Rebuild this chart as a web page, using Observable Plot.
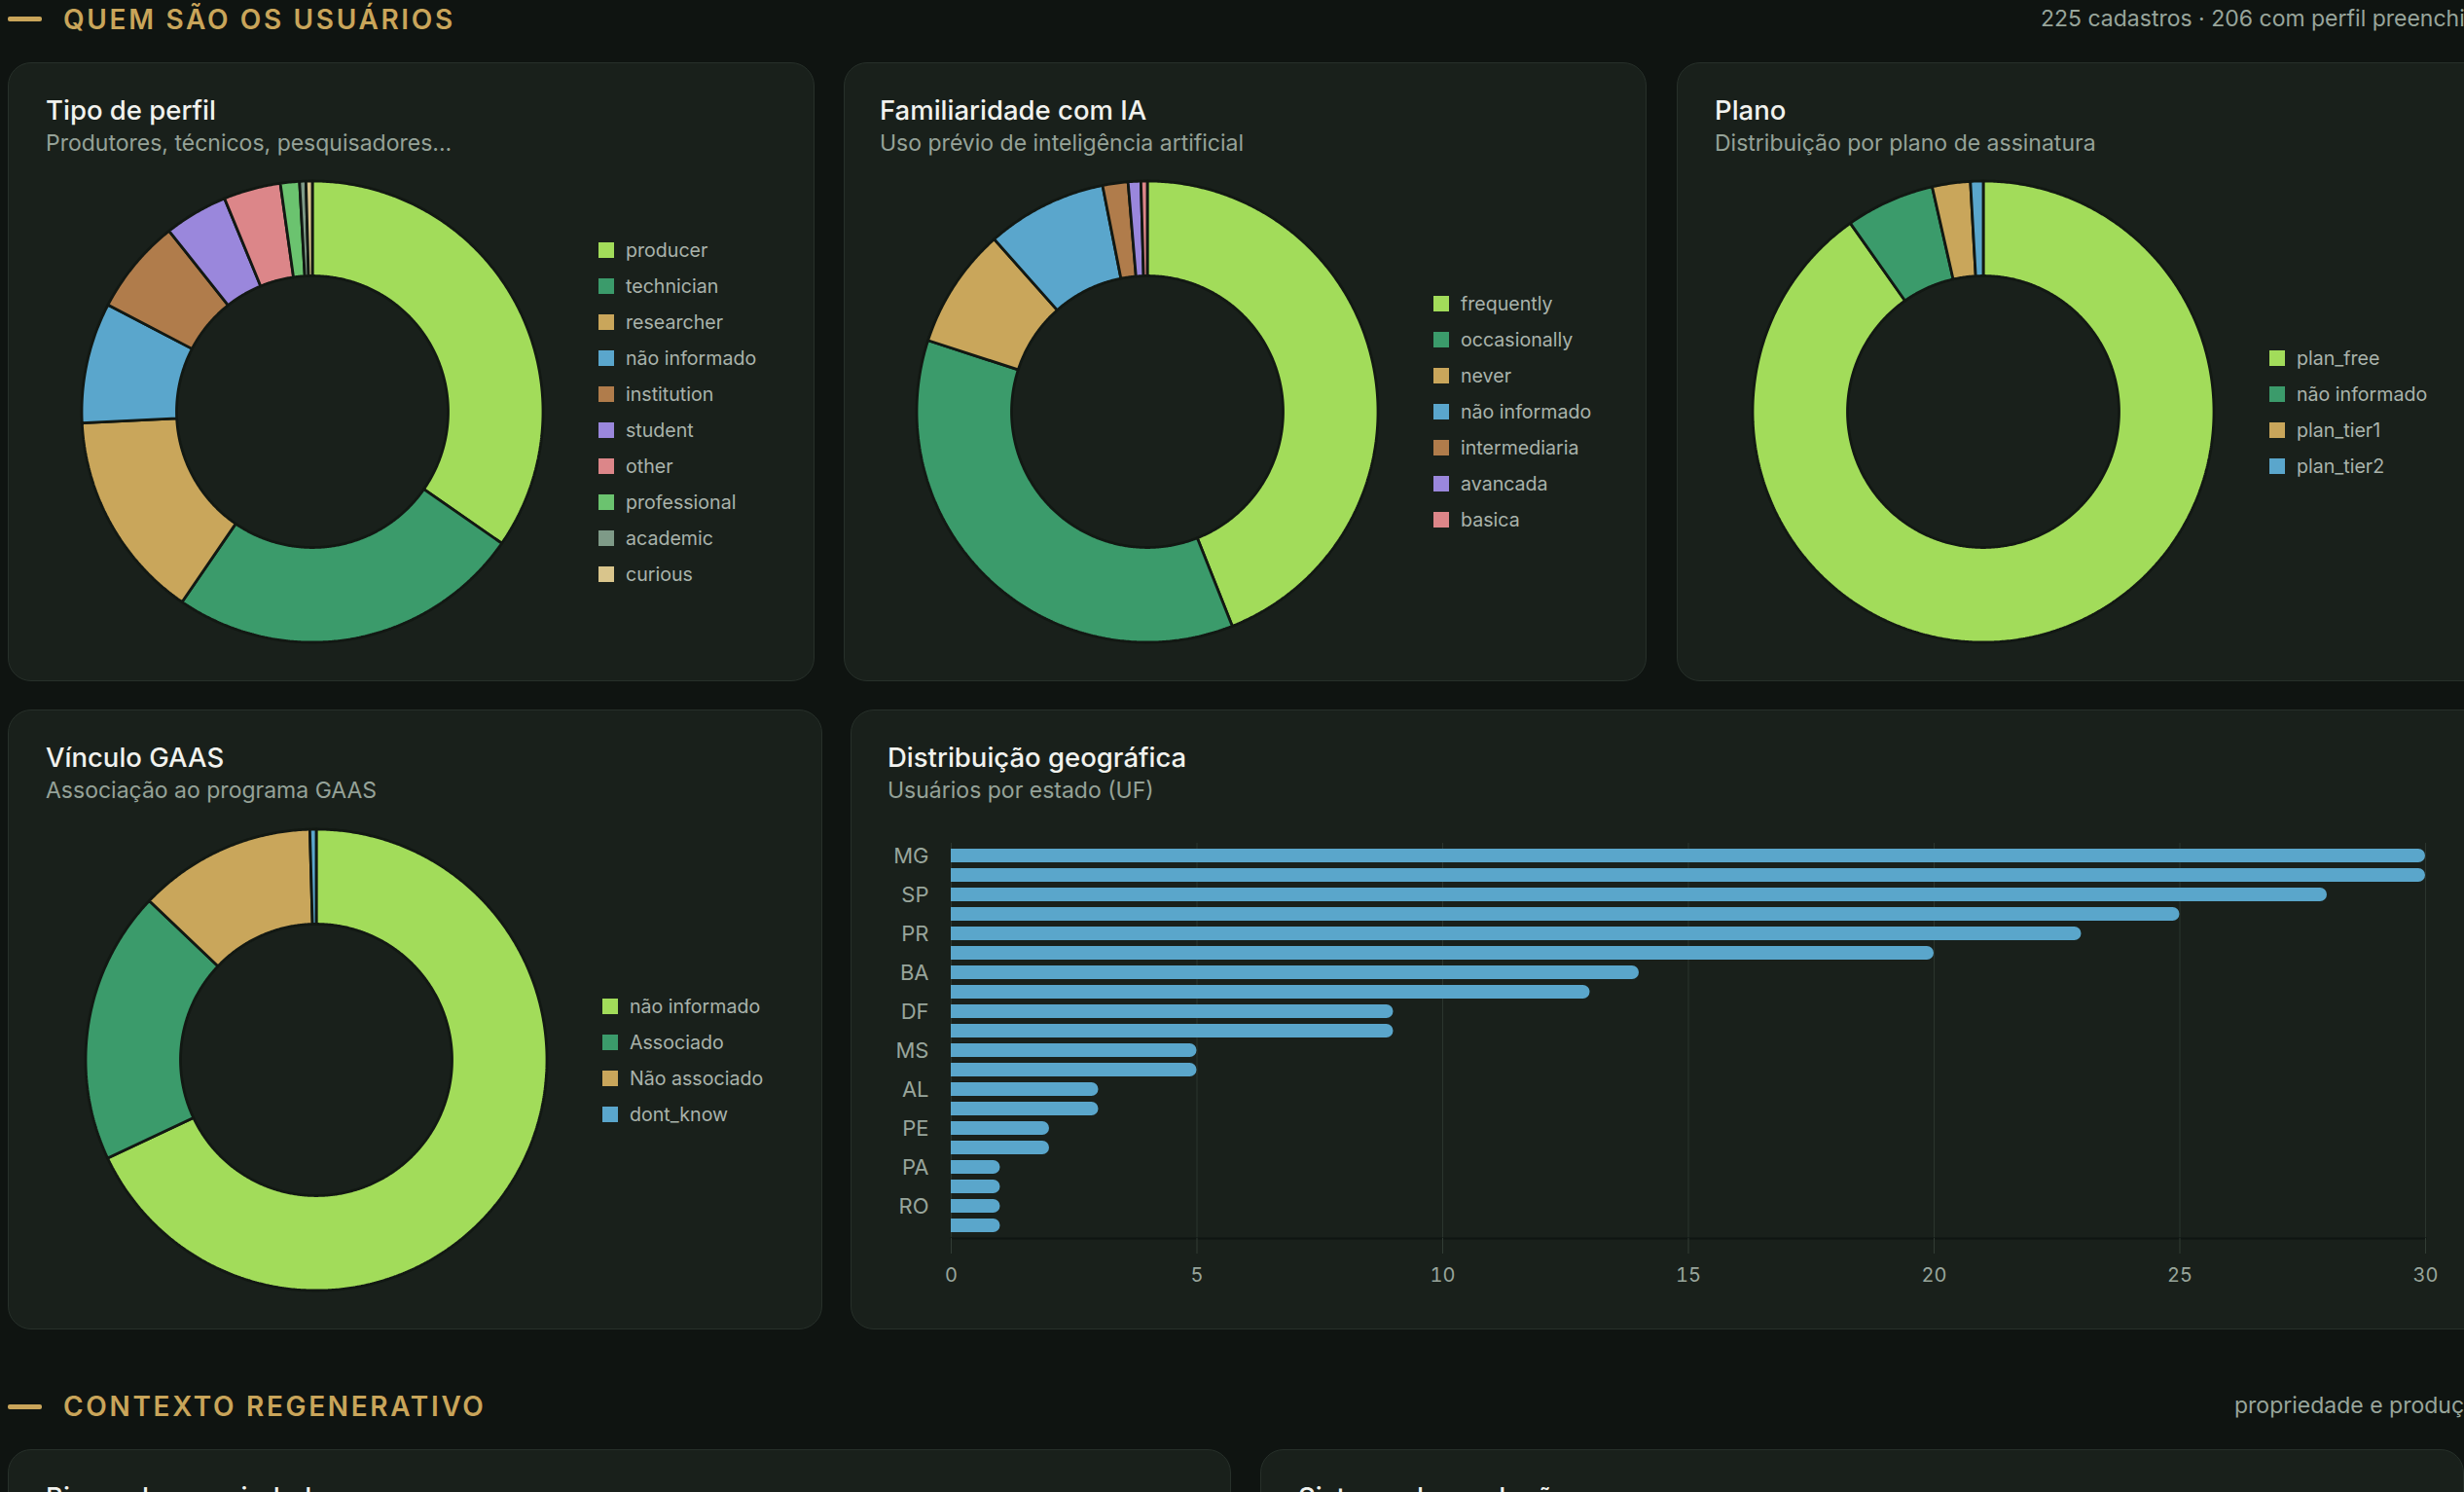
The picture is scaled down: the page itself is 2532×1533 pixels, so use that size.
<!DOCTYPE html>
<html>
<head>
<meta charset="utf-8">
<script src="https://cdn.jsdelivr.net/npm/d3@7"></script>
<script src="https://cdn.jsdelivr.net/npm/@observablehq/plot@0.6"></script>
<style>
html, body { margin: 0; padding: 0; background: #0f1411; }
body { width: 2532px; height: 1533px; overflow: hidden; position: relative; font-family: Inter, "Noto Sans", sans-serif; }
.abs { position: absolute; }
.card { position: absolute; background: #19201b; border: 1.5px solid #27302a; border-radius: 24px; box-sizing: border-box; }
.sec-dash { position: absolute; height: 5px; width: 35px; background: #c9a55a; border-radius: 2px; }
.sec-title { position: absolute; font-size: 28px; line-height: 1; font-weight: 600; letter-spacing: 0.095em; color: #c9a55a; white-space: nowrap; }
.sec-right { position: absolute; font-size: 23px; line-height: 1; color: #98a59b; white-space: nowrap; }
.ttl { position: absolute; font-size: 27.5px; line-height: 1; font-weight: 500; color: #f1f2ee; white-space: nowrap; }
.sub { position: absolute; font-size: 23px; line-height: 1; color: #95a298; white-space: nowrap; }
.leg { position: absolute; display: flex; flex-direction: column; }
.leg .row { display: flex; align-items: center; height: 37px; font-size: 19.6px; color: #a9b3ab; white-space: nowrap; }
.leg .sw { width: 16px; height: 16px; margin-right: 12px; flex: none; }
svg { overflow: visible; }
</style>
</head>
<body>
<script>
// ---------- DATA ----------
const perfilCats = ["producer", "technician", "researcher", "não informado", "institution", "student", "other", "professional", "academic", "curious"];
const perfilVals = [78, 56, 33, 19, 15, 10, 9, 3, 1, 1];
const perfilColors = ["#a2dc5a", "#3b9b6b", "#c9a65b", "#5aa6cc", "#b07c4b", "#9a87dc", "#dc8689", "#6bc36f", "#7e9a87", "#d9c58c"];

const iaCats = ["frequently", "occasionally", "never", "não informado", "intermediaria", "avancada", "basica"];
const iaVals = [99, 81, 19, 19, 4, 2, 1];
const iaColors = ["#a2dc5a", "#3b9b6b", "#c9a65b", "#5aa6cc", "#b07c4b", "#9a87dc", "#dc8689"];

const planoCats = ["plan_free", "não informado", "plan_tier1", "plan_tier2"];
const planoVals = [203, 14, 6, 2];
const planoColors = ["#a2dc5a", "#3b9b6b", "#c9a65b", "#5aa6cc"];

const gaasCats = ["não informado", "Associado", "Não associado", "dont_know"];
const gaasVals = [153, 43, 28, 1];
const gaasColors = ["#a2dc5a", "#3b9b6b", "#c9a65b", "#5aa6cc"];

const ufNames = ["MG", "RS", "SP", "SC", "PR", "GO", "BA", "RJ", "DF", "MT", "MS", "ES", "AL", "CE", "PE", "PB", "PA", "RN", "RO", "TO"];
const ufVals = [30, 30, 28, 25, 23, 20, 14, 13, 9, 9, 5, 5, 3, 3, 2, 2, 1, 1, 1, 1];
const ufTickLabels = ["MG", "SP", "PR", "BA", "DF", "MS", "AL", "PE", "PA", "RO"];
const xTickValues = [0, 5, 10, 15, 20, 25, 30];

// ---------- LAYOUT HELPERS ----------
function el(cls, style, text) {
  const d = document.createElement("div");
  d.className = cls;
  Object.assign(d.style, style);
  if (text != null) d.textContent = text;
  document.body.appendChild(d);
  return d;
}
function card(left, top, width, height) {
  el("card", {left: left + "px", top: top + "px", width: width + "px", height: height + "px"});
}
function titles(left, cardTop, t, s) {
  el("ttl", {left: left + "px", top: (cardTop + 36) + "px"}, t);
  if (s) el("sub", {left: left + "px", top: (cardTop + 72) + "px"}, s);
}
function legend(left, cy, cats, colors) {
  const box = el("leg", {left: left + "px", top: (cy - cats.length * 37 / 2) + "px"});
  cats.forEach((c, i) => {
    const r = document.createElement("div");
    r.className = "row";
    const sw = document.createElement("div");
    sw.className = "sw";
    sw.style.background = colors[i];
    r.appendChild(sw);
    r.appendChild(document.createTextNode(c));
    box.appendChild(r);
  });
}

const RO = 237 / 240, RI = 139.5 / 240;
function donut(cx, cy, cats, vals, colors) {
  const arcs = d3.pie().sort(null).value(d => d.v)(cats.map((c, i) => ({c, v: vals[i]})));
  const pts = [];
  for (const a of arcs) {
    const n = Math.max(2, Math.ceil((a.endAngle - a.startAngle) / 0.008));
    for (let k = 0; k <= n; k++) {
      const t = a.startAngle + (a.endAngle - a.startAngle) * k / n;
      pts.push({c: a.data.c, xo: RO * Math.sin(t), yo: RO * Math.cos(t), xi: RI * Math.sin(t), yi: RI * Math.cos(t)});
    }
  }
  const svg = Plot.plot({
    width: 480, height: 480, margin: 0,
    x: {domain: [-1, 1], axis: null},
    y: {domain: [-1, 1], axis: null},
    color: {domain: cats, range: colors},
    style: {background: "transparent"},
    marks: [
      Plot.area(pts, {x1: "xo", y1: "yo", x2: "xi", y2: "yi", z: "c", fill: "c", stroke: "#121813", strokeWidth: 2.8, strokeLinejoin: "miter", curve: "linear"})
    ]
  });
  const w = el("abs", {left: (cx - 240) + "px", top: (cy - 240) + "px", width: "480px", height: "480px"});
  w.appendChild(svg);
  legend(cx + 294, cy, cats, colors);
}

// ---------- PAGE ----------
// Section 1 header
el("sec-dash", {left: "8px", top: "17px"});
el("sec-title", {left: "65px", top: "6px"}, "QUEM SÃO OS USUÁRIOS");
el("sec-right", {left: "2097px", top: "8px"}, "225 cadastros · 206 com perfil preenchido");

// Row 1 cards
card(8, 64, 829, 636);
card(867, 64, 825, 636);
card(1723, 64, 860, 636);
// Row 2 cards
card(8, 729, 837, 637);
card(874, 729, 1700, 637);

titles(47, 64, "Tipo de perfil", "Produtores, técnicos, pesquisadores...");
titles(904, 64, "Familiaridade com IA", "Uso prévio de inteligência artificial");
titles(1762, 64, "Plano", "Distribuição por plano de assinatura");
titles(47, 729, "Vínculo GAAS", "Associação ao programa GAAS");
titles(912, 729, "Distribuição geográfica", "Usuários por estado (UF)");

donut(321, 423, perfilCats, perfilVals, perfilColors);
donut(1179, 423, iaCats, iaVals, iaColors);
donut(2038, 423, planoCats, planoVals, planoColors);
donut(325, 1089, gaasCats, gaasVals, gaasColors);

// Bar chart
const ufData = ufNames.map((u, i) => ({uf: u, v: ufVals[i]}));
const bars = Plot.plot({
  width: 1632, height: 492,
  marginLeft: 97, marginRight: 20, marginTop: 26, marginBottom: 60,
  x: {domain: [0, 30], label: null, axis: null},
  y: {domain: ufNames, padding: 0.3, label: null, axis: null},
  style: {background: "transparent", fontFamily: "Inter, 'Noto Sans', sans-serif"},
  marks: [
    Plot.gridX(xTickValues, {stroke: "#2b352e", strokeOpacity: 1}),
    Plot.barX(ufData, {x: "v", y: "uf", fill: "#5aa6cb", rx2: 7}),
    Plot.frame({anchor: "bottom", stroke: "#0f1512", strokeWidth: 2}),
    Plot.axisX({ticks: xTickValues, tickSize: 16, tickPadding: 14, stroke: "#323d35", fill: "#98a59b", fontSize: 20, label: null}),
    Plot.axisY({ticks: ufTickLabels, tickSize: 0, tickPadding: 23, fill: "#98a59b", fontSize: 22, label: null})
  ]
});
const bw = el("abs", {left: "880px", top: "840px"});
bw.appendChild(bars);

// Section 2 header
el("sec-dash", {left: "8px", top: "1443px"});
el("sec-title", {left: "65px", top: "1431px"}, "CONTEXTO REGENERATIVO");
el("sec-right", {left: "2296px", top: "1433px"}, "propriedade e produção");

// Row 3 cards (cut off by the window, as in the reference)
card(8, 1489, 1257, 300);
card(1295, 1489, 1237, 300);
titles(47, 1489, "Bioma da propriedade", null);
titles(1334, 1489, "Sistema de produção", null);
</script>
</body>
</html>
